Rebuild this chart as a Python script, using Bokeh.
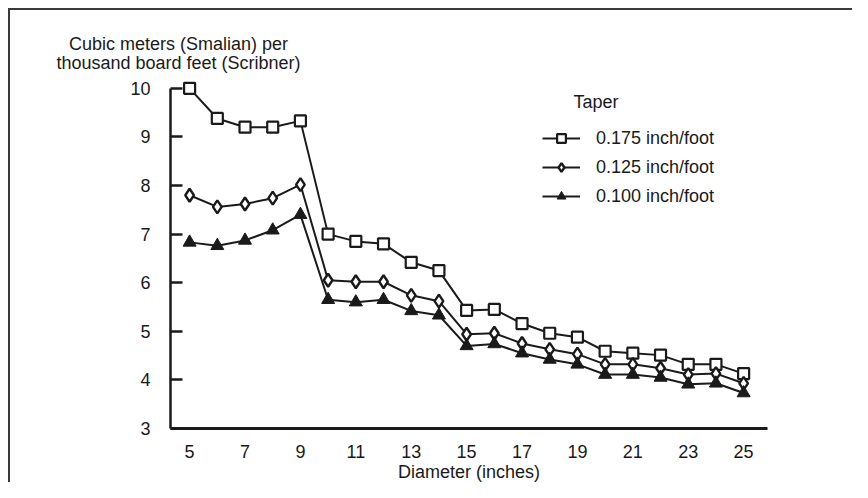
from bokeh.plotting import figure
from bokeh.models import Range1d, FixedTicker, Label, Legend, LegendItem
from bokeh.embed import file_html
from bokeh.resources import INLINE

diameter = list(range(5, 26))
taper_175 = [10.0, 9.38, 9.2, 9.2, 9.33, 7.0, 6.85, 6.8, 6.42, 6.25, 5.43, 5.45, 5.16, 4.96, 4.88, 4.59, 4.55, 4.51, 4.32, 4.32, 4.13]
taper_125 = [7.8, 7.56, 7.62, 7.74, 8.02, 6.05, 6.02, 6.02, 5.74, 5.62, 4.94, 4.96, 4.75, 4.63, 4.53, 4.32, 4.32, 4.24, 4.11, 4.13, 3.93]
taper_100 = [6.83, 6.76, 6.87, 7.08, 7.4, 5.65, 5.6, 5.65, 5.42, 5.33, 4.7, 4.74, 4.55, 4.42, 4.32, 4.11, 4.11, 4.05, 3.91, 3.93, 3.73]
series_labels = ["0.175 inch/foot", "0.125 inch/foot", "0.100 inch/foot"]
x_ticks = [5, 7, 9, 11, 13, 15, 17, 19, 21, 23, 25]
y_ticks = [3, 4, 5, 6, 7, 8, 9, 10]
y_title = ["Cubic meters (Smalian) per", "thousand board feet (Scribner)"]
x_title = "Diameter (inches)"
legend_title = "Taper"

FONT = "Liberation Sans"
INK = "#1a1a1a"

X_AXIS_START, X_AXIS_END = 4.31, 25.87
Y_AXIS_START, Y_AXIS_END = 3, 10

p = figure(width=852, height=482, output_backend="svg", toolbar_location=None,
           x_range=Range1d(-1.827, 28.93), y_range=Range1d(1.889, 11.807),
           min_border=0)
p.outline_line_color = None
p.xgrid.visible = False
p.ygrid.visible = False
p.background_fill_color = None
p.border_fill_color = None
p.styles = {
    "background": ("linear-gradient(#3a3a3a,#3a3a3a) 8px 8px / 100% 2px no-repeat, "
                   "linear-gradient(#3a3a3a,#3a3a3a) 8px 8px / 2px 100% no-repeat, white"),
}

# axes (drawn at fixed data locations inside the canvas)
p.yaxis.fixed_location = X_AXIS_START
p.yaxis.bounds = (Y_AXIS_START, Y_AXIS_END)
p.yaxis.ticker = FixedTicker(ticks=y_ticks)
p.yaxis.axis_line_width = 2.5
p.yaxis.axis_line_color = INK
p.yaxis.major_tick_in = 12
p.yaxis.major_tick_out = 0
p.yaxis.major_tick_line_width = 2.5
p.yaxis.major_tick_line_color = INK
p.yaxis.minor_tick_line_color = None
p.yaxis.major_label_standoff = 20
p.yaxis.major_label_text_font = FONT
p.yaxis.major_label_text_font_size = "18px"
p.yaxis.major_label_text_color = INK

p.xaxis.fixed_location = Y_AXIS_START
p.xaxis.bounds = (X_AXIS_START, X_AXIS_END)
p.xaxis.ticker = FixedTicker(ticks=x_ticks)
p.xaxis.axis_line_width = 3
p.xaxis.axis_line_color = INK
p.xaxis.major_tick_line_color = None
p.xaxis.minor_tick_line_color = None
p.xaxis.major_label_standoff = 10
p.xaxis.major_label_text_font = FONT
p.xaxis.major_label_text_font_size = "18px"
p.xaxis.major_label_text_color = INK
p.xaxis.axis_label = x_title
p.xaxis.axis_label_text_font = FONT
p.xaxis.axis_label_text_font_style = "normal"
p.xaxis.axis_label_text_font_size = "18px"
p.xaxis.axis_label_text_color = INK
p.xaxis.axis_label_standoff = 1

# series
l1 = p.line(diameter, taper_175, line_color=INK, line_width=2)
m1 = p.scatter(diameter, taper_175, marker="square", size=11, fill_color="white", line_color=INK, line_width=2.2)
l2 = p.line(diameter, taper_125, line_color=INK, line_width=2)
m2 = p.scatter(diameter, taper_125, marker="diamond", size=13, fill_color="white", line_color=INK, line_width=2.4)
l3 = p.line(diameter, taper_100, line_color=INK, line_width=2)
m3 = p.scatter(diameter, taper_100, marker="triangle", size=13, fill_color=INK, line_color=INK, line_width=1)

legend = Legend(items=[LegendItem(label=series_labels[0], renderers=[l1, m1]),
                       LegendItem(label=series_labels[1], renderers=[l2, m2]),
                       LegendItem(label=series_labels[2], renderers=[l3, m3])],
                location=(542, 275), padding=0, margin=0, spacing=7,
                glyph_width=38, glyph_height=22, label_height=22, label_standoff=16,
                border_line_color=None, background_fill_alpha=0,
                label_text_font=FONT, label_text_font_size="18px", label_text_color=INK)
p.add_layout(legend)

p.add_layout(Label(x=18.86, y=9.71, text=legend_title, text_font=FONT, text_font_size="18px",
                   text_color=INK, text_baseline="middle", text_align="left"))
p.add_layout(Label(x=4.6, y=10.92, text=y_title[0], text_font=FONT,
                   text_font_size="18px", text_color=INK, text_baseline="middle", text_align="center"))
p.add_layout(Label(x=4.6, y=10.53, text=y_title[1], text_font=FONT,
                   text_font_size="18px", text_color=INK, text_baseline="middle", text_align="center"))

open("out.html", "w").write(file_html(p, INLINE))
